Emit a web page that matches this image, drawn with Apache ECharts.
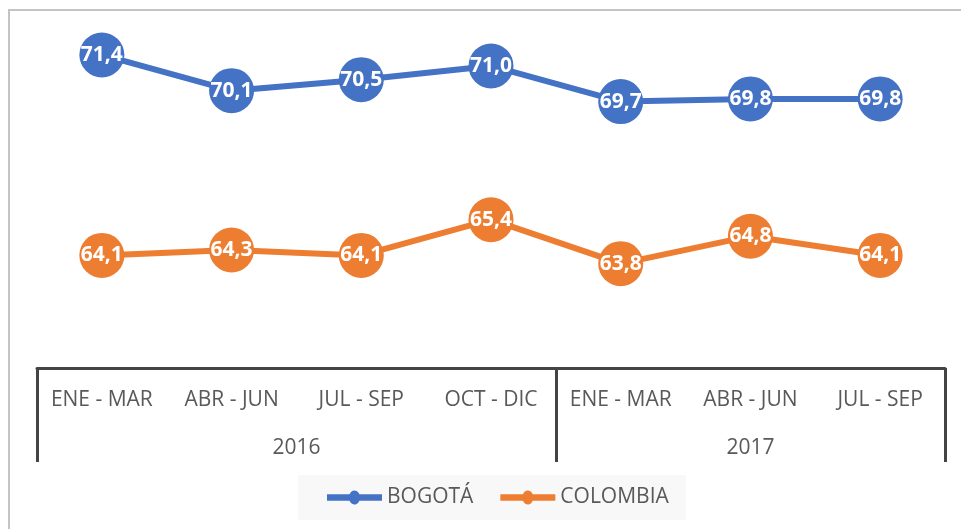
<!DOCTYPE html>
<html>
<head>
<meta charset="utf-8">
<script src="https://cdn.jsdelivr.net/npm/echarts@6/dist/echarts.min.js"></script>
<style>
  html, body { margin: 0; padding: 0; background: #fff; }
  #grafico { width: 961px; height: 529px; }
</style>
</head>
<body>
<div id="grafico"></div>
<script>
// datos del grafico
const trimestres = ["ENE - MAR", "ABR - JUN", "JUL - SEP", "OCT - DIC", "ENE - MAR", "ABR - JUN", "JUL - SEP"];
const anios = ["2016", "2017"];
const trimestresPorAnio = [4, 3];
const bogota = [71.4, 70.1, 70.5, 71.0, 69.7, 69.8, 69.8];
const colombia = [64.1, 64.3, 64.1, 65.4, 63.8, 64.8, 64.1];

// limites y centros de cada año sobre el eje
const limites = [0];
trimestresPorAnio.forEach((n) => limites.push(limites[limites.length - 1] + n));
const centros = anios.map((a, i) => (limites[i] + limites[i + 1]) / 2);

const fuente = "'Open Sans', 'Noto Sans', sans-serif";
const gris = "#595959";
const lineaEje = "#444444";

// icono de leyenda: linea gruesa con punto al medio (un solo contorno)
const iconoLeyenda =
  "path://M0,4.5H22.6A5.5,5.5 0 0 1 32.4,4.5H55V9.5H32.4A5.5,5.5 0 0 1 22.6,9.5H0Z";

const etiqueta = {
  show: true,
  position: "inside",
  color: "#fff",
  fontWeight: "bold",
  fontSize: 21,
  fontFamily: fuente,
  formatter: (p) => p.value.toFixed(1).replace(".", ","),
};

const option = {
  animation: false,
  backgroundColor: "#fff",
  grid: { left: 37, right: 16, top: 11, bottom: 161 },
  legend: {
    left: 298,
    top: 475,
    backgroundColor: "#f8f8f8",
    padding: [12, 17, 12, 29],
    itemGap: 27,
    itemWidth: 55,
    itemHeight: 14,
    icon: iconoLeyenda,
    symbolKeepAspect: false,
    textStyle: { color: gris, fontSize: 21, fontFamily: fuente },
  },
  xAxis: [
    {
      type: "category",
      data: trimestres,
      boundaryGap: true,
      axisLine: { show: false },
      axisTick: { show: false },
      axisLabel: { color: gris, fontSize: 21, fontFamily: fuente, margin: 22, interval: 0 },
    },
    {
      type: "value",
      min: 0,
      max: limites[limites.length - 1],
      position: "bottom",
      splitLine: { show: false },
      axisLine: { show: true, lineStyle: { color: lineaEje, width: 3 } },
      axisTick: {
        show: true,
        customValues: limites,
        length: 94,
        lineStyle: { color: lineaEje, width: 3 },
      },
      axisLabel: {
        customValues: centros,
        color: gris,
        fontSize: 21,
        fontFamily: fuente,
        margin: 70,
        formatter: (v) => anios[centros.indexOf(v)],
      },
    },
  ],
  yAxis: { type: "value", min: 60, max: 73, show: false, splitLine: { show: false } },
  series: [
    {
      name: "BOGOTÁ",
      type: "line",
      data: bogota,
      symbol: "circle",
      symbolSize: 45,
      itemStyle: { color: "#4472C4" },
      lineStyle: { width: 6, color: "#4472C4" },
      label: etiqueta,
    },
    {
      name: "COLOMBIA",
      type: "line",
      data: colombia,
      symbol: "circle",
      symbolSize: 45,
      itemStyle: { color: "#ED7D31" },
      lineStyle: { width: 6, color: "#ED7D31" },
      label: etiqueta,
    },
  ],
  graphic: [
    { type: "line", shape: { x1: 9, y1: 10, x2: 961, y2: 10 }, style: { stroke: "#c4c4c4", lineWidth: 2 } },
    { type: "line", shape: { x1: 9, y1: 9, x2: 9, y2: 529 }, style: { stroke: "#c4c4c4", lineWidth: 2 } },
  ],
};

const miGrafico = echarts.init(document.getElementById("grafico"));
miGrafico.setOption(option);
</script>
</body>
</html>
